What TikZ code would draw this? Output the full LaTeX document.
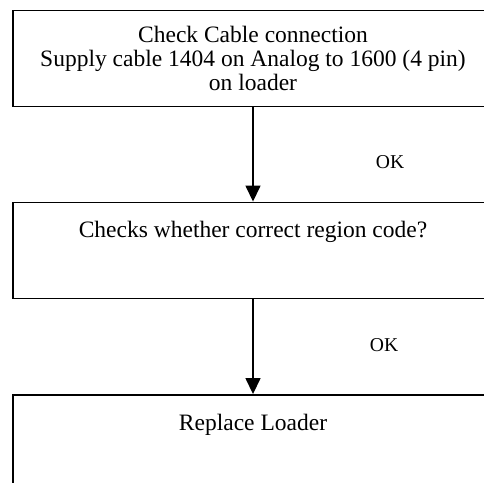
\documentclass[tikz,border=0pt]{standalone}
\usepackage{fontspec}
\setmainfont{Liberation Serif}
\usetikzlibrary{arrows.meta}

\begin{document}
\begin{tikzpicture}[x=1pt,y=-1pt,>={Triangle[width=15pt,length=16pt]},
    box/.style={draw,line width=1.9pt,minimum width=480pt,minimum height=96pt,
      inner sep=0pt,align=center,font=\fontsize{23.5}{24}\selectfont},
    boxtext/.style={anchor=base,inner sep=0pt,font=\fontsize{23.5}{24}\selectfont},
    oklabel/.style={inner sep=0pt,font=\fontsize{19.6}{22}\selectfont}]
  \useasboundingbox (0,0) rectangle (484,482);
  \clip (0,0) rectangle (484,482);

  \node[box] (b1) at (253,58.5)
    {Check Cable connection\\Supply cable 1404 on Analog to 1600 (4 pin)\\on loader};
  \node[box] (b2) at (253,250.5) {};
  \node[box] (b3) at (253,443) {};

  \node[boxtext] (t2) at (253,237) {Checks whether correct region code?};
  \node[boxtext] (t3) at (253,430) {Replace Loader};

  \foreach \a/\b in {b1/b2,b2/b3} {
    \draw[->,line width=1.5pt] (\a) -- (\b);
  }

  \node[oklabel] (ok1) at (390,162) {OK};
  \node[oklabel] (ok2) at (384,345) {OK};
\end{tikzpicture}
\end{document}
